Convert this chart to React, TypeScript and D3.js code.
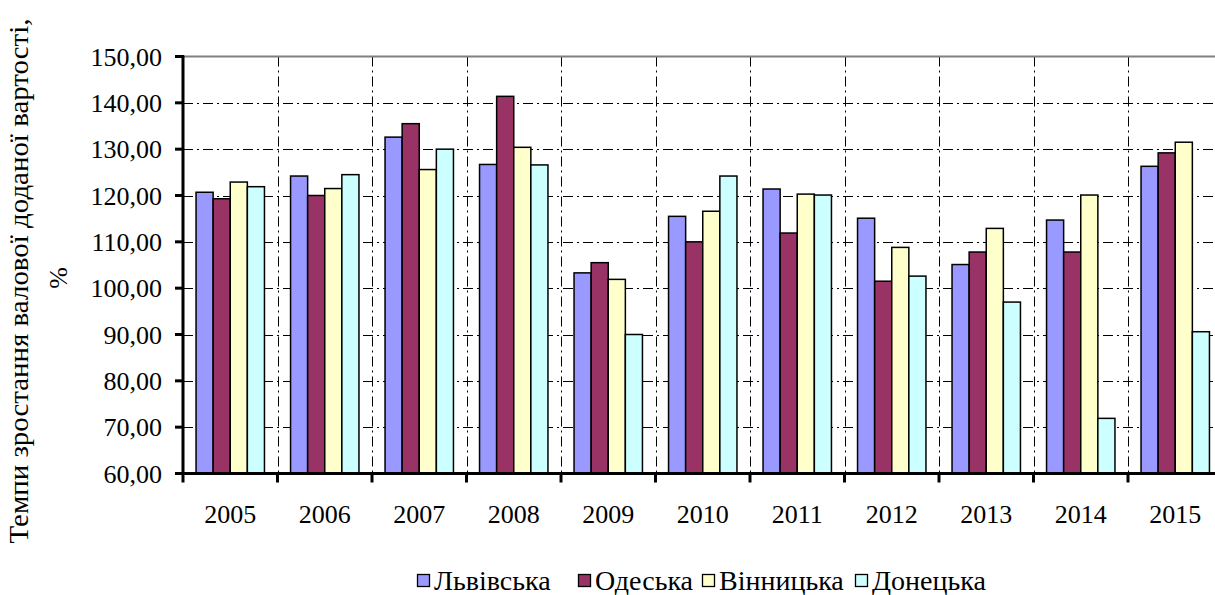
import React from "react";
import * as d3 from "d3";

const years = ["2005", "2006", "2007", "2008", "2009", "2010", "2011", "2012", "2013", "2014", "2015"];
const seriesNames = ["Львівська", "Одеська", "Вінницька", "Донецька"];
const lviv = [120.7, 124.2, 132.6, 126.7, 103.3, 115.5, 121.4, 115.1, 105.1, 114.7, 126.3];
const odesa = [119.3, 120.0, 135.5, 141.4, 105.5, 110.0, 111.9, 101.5, 107.8, 107.8, 129.2];
const vinnytsia = [122.9, 121.5, 125.6, 130.4, 101.9, 116.6, 120.3, 108.8, 112.9, 120.1, 131.5];
const donetsk = [121.9, 124.5, 130.0, 126.6, 90.0, 124.2, 120.1, 102.6, 97.0, 71.9, 90.6];
const yTicks = [60, 70, 80, 90, 100, 110, 120, 130, 140, 150];
const colors = ["#9999FF", "#993366", "#FFFFCC", "#CCFFFF"];
const yTitle1 = "Темпи зростання валової доданої вартості,";
const yTitle2 = "%";

const W = 1215;
const H = 595;
const left = 183;
const right = 1222.5;
const top = 56.5;
const bottom = 473.5;
const legendX = [417, 578, 702, 855];
const FF = "Liberation Serif";

function T(props: any) {
  const { children, style, ...rest } = props;
  return (
    <text fill="#000" fontFamily={FF} {...rest} style={{ fontFamily: FF, ...(style || {}) }}>
      {children}
    </text>
  );
}

export default function App() {
  const series = [lviv, odesa, vinnytsia, donetsk];
  const x = d3.scaleBand<string>().domain(years).range([left, right]).paddingInner(0.276).paddingOuter(0.138);
  const xs = d3.scaleBand<number>().domain([0, 1, 2, 3]).range([0, x.bandwidth()]).padding(0);
  const y = d3.scaleLinear().domain([60, 150]).range([bottom, top]);
  const step = x.step();
  const boundaries = d3.range(years.length + 1).map((i) => left + i * step);
  const fmt = (v: number) => v.toFixed(2).replace(".", ",");
  const dash = "10,4,2,4";

  return (
    <div style={{ fontFamily: FF }}>
      <svg width={W} height={H} style={{ position: "absolute", left: 0, top: 0, background: "#fff", fontFamily: FF }}>
        {yTicks.filter((t) => t > 60 && t < 150).map((t) => (
          <line key={"hg" + t} x1={left} x2={right} y1={Math.round(y(t)) + 0.5} y2={Math.round(y(t)) + 0.5} stroke="#000" strokeWidth={1} strokeDasharray={dash} />
        ))}
        {boundaries.slice(1).map((b, i) => (
          <line key={"vg" + i} x1={Math.round(b) + 0.5} x2={Math.round(b) + 0.5} y1={top} y2={bottom} stroke="#000" strokeWidth={1} strokeDasharray={dash} />
        ))}
        <line x1={left} x2={right} y1={top} y2={top} stroke="#808080" strokeWidth={2} />
        {years.map((yr, i) => (
          <g key={yr} transform={`translate(${x(yr)},0)`}>
            {series.map((s, j) => (
              <rect key={j} x={xs(j)} y={y(s[i])} width={xs.bandwidth()} height={y(60) - y(s[i])} fill={colors[j]} stroke="#000" strokeWidth={1.5} />
            ))}
          </g>
        ))}
        <line x1={left} x2={left} y1={top - 1} y2={bottom + 1} stroke="#000" strokeWidth={3} />
        {yTicks.map((t) => (
          <g key={"yt" + t}>
            <line x1={left - 8} x2={left + 1} y1={y(t)} y2={y(t)} stroke="#000" strokeWidth={3} />
            <T x={162} y={y(t) + 9} textAnchor="end" fontSize={26}>{fmt(t)}</T>
          </g>
        ))}
        <line x1={left - 8} x2={right} y1={bottom} y2={bottom} stroke="#000" strokeWidth={3} />
        {boundaries.map((b, i) => (
          <line key={"xt" + i} x1={b} x2={b} y1={bottom} y2={bottom + 9} stroke="#000" strokeWidth={3} />
        ))}
        {years.map((yr) => (
          <T key={"xl" + yr} x={(x(yr) as number) + x.bandwidth() / 2} y={523} textAnchor="middle" fontSize={26}>{yr}</T>
        ))}
        <T transform={`translate(28,281) rotate(-90)`} textAnchor="middle" fontSize={27} textLength={525} lengthAdjust="spacingAndGlyphs">{yTitle1}</T>
        <T transform={`translate(67,278) rotate(-90)`} textAnchor="middle" fontSize={26}>{yTitle2}</T>
        {seriesNames.map((n, j) => (
          <g key={"lg" + n} transform={`translate(${legendX[j]},0)`}>
            <rect x={0.5} y={574.5} width={12} height={12} fill={colors[j]} stroke="#000" strokeWidth={1.3} />
            <T x={17} y={590} fontSize={28}>{n}</T>
          </g>
        ))}
      </svg>
    </div>
  );
}
